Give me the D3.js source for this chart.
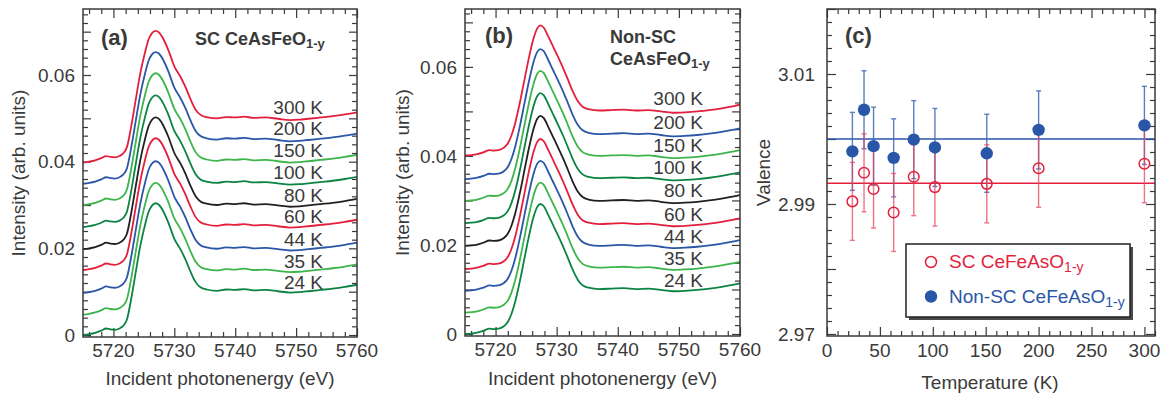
<!DOCTYPE html>
<html><head><meta charset="utf-8">
<script src="https://cdn.jsdelivr.net/npm/d3@7"></script>
<style>
body{margin:0;background:#fff;}
svg{display:block;font-family:"Liberation Sans",Arial,Helvetica,sans-serif;}
</style></head>
<body><svg id="c" width="1162" height="397"></svg>
<script>
// ---------- DATA ----------
const tempLabels = ["24 K","35 K","44 K","60 K","80 K","100 K","150 K","200 K","300 K"];
// Panel (a): energy grid and normalized spectrum shape (24 K curve), vertical offsets per temperature
const energyA = [5715,5716,5717,5718,5718.8,5719.5,5720.2,5721,5721.6,5722.2,5723,5723.6,5724.4,5725.2,5725.8,5726.3,5726.9,5727.5,5728.2,5729,5730,5731,5731.8,5732.6,5733.5,5734.3,5735.3,5737,5738.5,5740,5741.5,5743,5745,5747,5749,5750.5,5752,5754,5756,5758,5760];
const intensA = [0.0000,0.0002,0.0005,0.0010,0.0015,0.0013,0.0012,0.0015,0.0021,0.0035,0.0090,0.0140,0.0205,0.0255,0.0285,0.0298,0.0304,0.0300,0.0285,0.0260,0.0222,0.0198,0.0175,0.0148,0.0122,0.0110,0.0105,0.0102,0.0105,0.0104,0.0106,0.0103,0.0104,0.0101,0.0098,0.0099,0.0101,0.0104,0.0107,0.0111,0.0116];
const offsetsA = [0.0000,0.0047,0.0097,0.0150,0.0198,0.0249,0.0300,0.0349,0.0398];
// Panel (b)
const energyB = [5715,5716,5717,5718,5719,5719.7,5720.5,5721.3,5722,5722.6,5723.2,5724,5724.8,5725.5,5726.2,5726.8,5727.3,5727.9,5728.6,5729.4,5730.2,5731,5731.8,5732.6,5733.5,5734.3,5735.2,5737,5739,5741,5743,5745,5747,5749,5751,5753,5755,5757,5759,5760];
const intensB = [0.0000,0.0001,0.0003,0.0007,0.0012,0.0011,0.0012,0.0017,0.0027,0.0045,0.0072,0.0120,0.0175,0.0222,0.0262,0.0285,0.0292,0.0287,0.0268,0.0245,0.0222,0.0198,0.0172,0.0145,0.0121,0.0109,0.0104,0.0101,0.0102,0.0103,0.0101,0.0102,0.0099,0.0096,0.0097,0.0099,0.0102,0.0106,0.0111,0.0114];
const offsetsB = [0.0000,0.0048,0.0097,0.0146,0.0198,0.0249,0.0299,0.0348,0.0401];
// Panel (c)
const tempsC = [24,35,44,63,82,102,151,200,300];
const valenceSC = [2.9904,2.9948,2.9923,2.9887,2.9942,2.9926,2.9931,2.9955,2.9962];
const errSC = [0.006,0.006,0.006,0.006,0.006,0.006,0.006,0.006,0.006];
const valenceNonSC = [2.9981,3.0045,2.9989,2.9971,2.9999,2.9987,2.9978,3.0014,3.0021];
const errNonSC = [0.006,0.006,0.006,0.006,0.006,0.006,0.006,0.006,0.006];
const meanSC = 2.9932;
const meanNonSC = 3.0000;
const ticksIntensity = [0,0.02,0.04,0.06];
const ticksEnergy = [5720,5730,5740,5750,5760];
const ticksValence = [2.97,2.99,3.01];
const ticksTemp = [0,50,100,150,200,250,300];

// ---------- STYLE ----------
const curveColors = ["#0b8443","#3db54a","#2a56a8","#e31f3c","#231f20","#0b8443","#3db54a","#2a56a8","#e31f3c"];
const ink = "#3a3a3a";
const red = "#e31f3c", blue = "#2a56a8";

const svg = d3.select("#c");
svg.append("rect").attr("width",1162).attr("height",397).attr("fill","#fff");

function ticksGroup(g, scale, orient, values, len, pos){
  let ax;
  if(orient==="left") ax = d3.axisLeft(scale);
  else if(orient==="right") ax = d3.axisRight(scale);
  else if(orient==="top") ax = d3.axisTop(scale);
  else ax = d3.axisBottom(scale);
  ax.tickValues(values).tickSize(-len).tickFormat("");
  const t = g.append("g").attr("transform", orient==="left"||orient==="right" ? `translate(${pos},0)` : `translate(0,${pos})`).call(ax);
  t.select(".domain").remove();
  t.selectAll("line").attr("stroke",ink).attr("stroke-width",1.2);
}
function labels(g, scale, orient, values, fmt, pos, pad){
  if(orient==="left"){
    g.append("g").selectAll("text").data(values).join("text")
      .attr("x",pos-pad).attr("y",d=>scale(d)).attr("dy","0.35em")
      .attr("text-anchor","end").attr("font-size",19).attr("fill",ink).text(fmt);
  } else {
    g.append("g").selectAll("text").data(values).join("text")
      .attr("x",d=>scale(d)).attr("y",pos+pad)
      .attr("text-anchor","middle").attr("font-size",19).attr("fill",ink).text(fmt);
  }
}
function frame(g,x0,y0,x1,y1){
  g.append("rect").attr("x",x0).attr("y",y0).attr("width",x1-x0).attr("height",y1-y0)
    .attr("fill","none").attr("stroke",ink).attr("stroke-width",1.5);
}
function range(a,b,s){const r=[];for(let v=a;v<=b+s*1e-6;v+=s) r.push(+v.toFixed(6));return r;}

function spectrumPanel(cfg){
  const g = svg.append("g");
  const x = d3.scaleLinear().domain([5715,5760]).range([cfg.x0,cfg.x1]);
  const y = d3.scaleLinear().domain([0,cfg.ymax]).range([cfg.yzero,cfg.y0]);
  const clipId = "clip"+cfg.id;
  svg.append("clipPath").attr("id",clipId).append("rect")
    .attr("x",cfg.x0).attr("y",cfg.y0).attr("width",cfg.x1-cfg.x0).attr("height",cfg.y1-cfg.y0);
  // ticks
  const yMinor = range(0,cfg.ymax,0.002).filter(v=>Math.abs(v/0.01-Math.round(v/0.01))>1e-6);
  const yMajor = range(0,0.07,0.01);
  const xMinor = range(5716,5760,2).filter(v=>v%10!==0);
  const xMajor = range(5720,5760,10);
  ticksGroup(g,y,"left",yMinor,5,cfg.x0);
  ticksGroup(g,y,"left",yMajor,8,cfg.x0);
  ticksGroup(g,y,"right",yMinor,5,cfg.x1);
  ticksGroup(g,y,"right",yMajor,8,cfg.x1);
  ticksGroup(g,x,"bottom",xMinor,5,cfg.y1);
  ticksGroup(g,x,"bottom",xMajor,9,cfg.y1);
  ticksGroup(g,x,"top",xMinor,5,cfg.y0);
  ticksGroup(g,x,"top",xMajor,9,cfg.y0);
  labels(g,y,"left",ticksIntensity,d=>d===0?"0":d3.format(".2f")(d),cfg.x0,8);
  labels(g,x,"bottom",ticksEnergy,d=>d,cfg.y1,20);
  // curves
  const line = d3.line().x(d=>x(d[0])).y(d=>y(d[1])).curve(d3.curveMonotoneX);
  const cg = g.append("g").attr("clip-path",`url(#${clipId})`);
  cfg.offsets.forEach((off,i)=>{
    const pts = cfg.energy.map((e,k)=>[e,cfg.intens[k]+off]);
    cg.append("path").attr("d",line(pts)).attr("fill","none")
      .attr("stroke",curveColors[i]).attr("stroke-width",1.8);
  });
  // temperature labels
  g.append("g").selectAll("text").data(cfg.offsets).join("text")
    .attr("x",cfg.labelX).attr("y",(d,i)=>y(d+0.0106)-(i*0.35))
    .attr("text-anchor","end").attr("font-size",19).attr("fill",ink)
    .text((d,i)=>tempLabels[i]);
  frame(g,cfg.x0,cfg.y0,cfg.x1,cfg.y1);
  // axis titles
  g.append("text").attr("transform",`translate(${cfg.ytitleX},${(cfg.y0+cfg.y1)/2}) rotate(-90)`)
    .attr("text-anchor","middle").attr("font-size",19).attr("fill",ink).text("Intensity (arb. units)");
  g.append("text").attr("x",(cfg.x0+cfg.x1)/2).attr("y",385)
    .attr("text-anchor","middle").attr("font-size",19).attr("fill",ink).text("Incident photonenergy (eV)");
  return g;
}

const gA = spectrumPanel({id:"a",x0:83,x1:357,y0:9,y1:337,yzero:335,ymax:0.07523,energy:energyA,intens:intensA,offsets:offsetsA,labelX:323,ytitleX:25});
const gB = spectrumPanel({id:"b",x0:465,x1:740,y0:9,y1:336,yzero:334,ymax:0.0730,energy:energyB,intens:intensB,offsets:offsetsB,labelX:703,ytitleX:409});

// panel titles
gA.append("text").attr("x",101).attr("y",45).attr("font-size",22).attr("font-weight","bold").attr("fill",ink).text("(a)");
const tA = gA.append("text").attr("x",195).attr("y",45).attr("font-size",18).attr("font-weight","bold").attr("fill",ink);
tA.append("tspan").text("SC CeAsFeO");
tA.append("tspan").attr("font-size",13).attr("dy",3).text("1-y");
gB.append("text").attr("x",485).attr("y",43).attr("font-size",22).attr("font-weight","bold").attr("fill",ink).text("(b)");
gB.append("text").attr("x",610).attr("y",43).attr("font-size",18).attr("font-weight","bold").attr("fill",ink).text("Non-SC");
const tB = gB.append("text").attr("x",610).attr("y",65).attr("font-size",18).attr("font-weight","bold").attr("fill",ink);
tB.append("tspan").text("CeAsFeO");
tB.append("tspan").attr("font-size",13).attr("dy",3).text("1-y");

// ---------- Panel (c) ----------
(function(){
  const x0=827,x1=1155,y0=9,y1=336;
  const g = svg.append("g");
  const x = d3.scaleLinear().domain([0,310]).range([x0,x1]);
  const y = d3.scaleLinear().domain([2.97,3.02]).range([334,9]);
  const yMinor = range(2.97,3.02,0.002).filter(v=>Math.abs(v*100-Math.round(v*100))>1e-4);
  const yMajor = range(2.97,3.02,0.01);
  const xMinor = range(10,310,10).filter(v=>v%50!==0);
  const xMajor = range(0,300,50);
  ticksGroup(g,y,"left",yMinor,5,x0);
  ticksGroup(g,y,"left",yMajor,9,x0);
  ticksGroup(g,y,"right",yMinor,5,x1);
  ticksGroup(g,y,"right",yMajor,9,x1);
  ticksGroup(g,x,"bottom",xMinor,5,y1);
  ticksGroup(g,x,"bottom",xMajor,9,y1);
  ticksGroup(g,x,"top",xMinor,5,y0);
  ticksGroup(g,x,"top",xMajor,9,y0);
  labels(g,y,"left",ticksValence,d=>d3.format(".2f")(d),x0,12);
  labels(g,x,"bottom",ticksTemp,d=>d,y1,21);

  // mean lines
  g.append("line").attr("x1",x0).attr("x2",x1).attr("y1",y(meanNonSC)).attr("y2",y(meanNonSC)).attr("stroke",blue).attr("stroke-width",1.6);
  g.append("line").attr("x1",x0).attr("x2",x1).attr("y1",y(meanSC)).attr("y2",y(meanSC)).attr("stroke",red).attr("stroke-width",1.6);

  // error bars
  function errbars(vals,errs,color,op){
    const eg = g.append("g").attr("stroke",color).attr("stroke-width",1.4).attr("opacity",op);
    tempsC.forEach((t,i)=>{
      const cx=x(t), top=y(vals[i]+errs[i]), bot=y(vals[i]-errs[i]);
      eg.append("line").attr("x1",cx).attr("x2",cx).attr("y1",top).attr("y2",bot);
      eg.append("line").attr("x1",cx-2.5).attr("x2",cx+2.5).attr("y1",top).attr("y2",top);
      eg.append("line").attr("x1",cx-2.5).attr("x2",cx+2.5).attr("y1",bot).attr("y2",bot);
    });
  }
  errbars(valenceNonSC,errNonSC,"#3f68b4",0.85);
  errbars(valenceSC,errSC,"#e8455e",0.75);
  g.append("g").selectAll("circle").data(tempsC).join("circle")
    .attr("cx",d=>x(d)).attr("cy",(d,i)=>y(valenceNonSC[i])).attr("r",6.2).attr("fill",blue);
  g.append("g").selectAll("circle").data(tempsC).join("circle")
    .attr("cx",d=>x(d)).attr("cy",(d,i)=>y(valenceSC[i])).attr("r",5.3)
    .attr("fill","none").attr("stroke",red).attr("stroke-width",1.5);

  frame(g,x0,y0,x1,y1);
  g.append("text").attr("x",845).attr("y",43).attr("font-size",22).attr("font-weight","bold").attr("fill",ink).text("(c)");
  g.append("text").attr("transform",`translate(770,${(y0+y1)/2}) rotate(-90)`)
    .attr("text-anchor","middle").attr("font-size",19).attr("fill",ink).text("Valence");
  g.append("text").attr("x",990).attr("y",389).attr("text-anchor","middle").attr("font-size",19).attr("fill",ink).text("Temperature (K)");

  // legend
  const lx=906, ly=244, lw=224, lh=73;
  g.append("rect").attr("x",lx+3).attr("y",ly+3).attr("width",lw).attr("height",lh).attr("fill","#4a4a4a");
  g.append("rect").attr("x",lx).attr("y",ly).attr("width",lw).attr("height",lh).attr("fill","#fff").attr("stroke","#222").attr("stroke-width",1.5);
  g.append("circle").attr("cx",931).attr("cy",262).attr("r",5.5).attr("fill","#fff").attr("stroke",red).attr("stroke-width",1.5);
  g.append("circle").attr("cx",931).attr("cy",296.5).attr("r",6.2).attr("fill",blue);
  const l1 = g.append("text").attr("x",949).attr("y",268).attr("font-size",19).attr("fill",red);
  l1.append("tspan").text("SC CeFeAsO");
  l1.append("tspan").attr("font-size",14).attr("dy",4).text("1-y");
  const l2 = g.append("text").attr("x",949).attr("y",303).attr("font-size",19).attr("fill",blue);
  l2.append("tspan").text("Non-SC CeFeAsO");
  l2.append("tspan").attr("font-size",14).attr("dy",4).text("1-y");
})();
</script></body></html>
